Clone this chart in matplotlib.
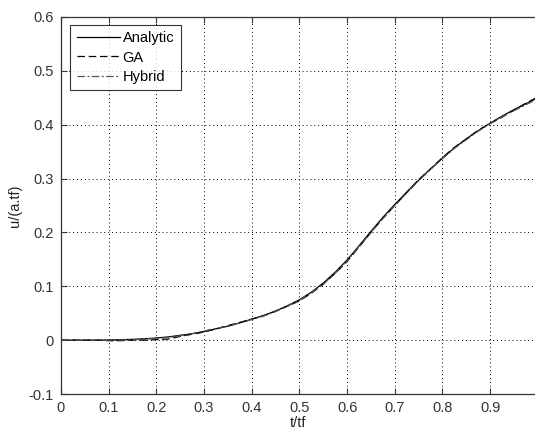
import matplotlib
matplotlib.use("Agg")
import matplotlib.pyplot as plt

t = [0, 0.025, 0.05, 0.075, 0.1, 0.125, 0.15, 0.175, 0.2, 0.225, 0.25, 0.275,
     0.3, 0.325, 0.35, 0.375, 0.4, 0.425, 0.45, 0.475, 0.5, 0.525, 0.55, 0.575,
     0.6, 0.625, 0.65, 0.675, 0.7, 0.725, 0.75, 0.775, 0.8, 0.825, 0.85, 0.875,
     0.9, 0.925, 0.95, 0.975, 0.995]
analytic = [0, 0, 0, 0, 0.0003, 0.0008, 0.0015, 0.0025, 0.004, 0.006, 0.009, 0.012,
            0.016, 0.021, 0.026, 0.032, 0.039, 0.046, 0.054, 0.064, 0.075, 0.089, 0.106, 0.126,
            0.149, 0.175, 0.202, 0.228, 0.252, 0.275, 0.297, 0.318, 0.338, 0.357, 0.374, 0.389,
            0.403, 0.416, 0.428, 0.439, 0.448]
ga = [0, 0, 0, 0, -0.001, -0.001, 0.0, 0.0, 0.001, 0.002, 0.007, 0.011,
      0.015, 0.021, 0.027, 0.033, 0.039, 0.045, 0.054, 0.063, 0.073, 0.087, 0.104, 0.124,
      0.146, 0.173, 0.200, 0.226, 0.250, 0.274, 0.298, 0.318, 0.339, 0.358, 0.373, 0.390,
      0.402, 0.414, 0.427, 0.440, 0.449]
hybrid = [0, 0, 0, 0, 0.0, 0.0, 0.0008, 0.002, 0.003, 0.005, 0.008, 0.012,
          0.017, 0.022, 0.026, 0.032, 0.038, 0.045, 0.053, 0.063, 0.074, 0.088, 0.104, 0.124,
          0.147, 0.173, 0.200, 0.226, 0.250, 0.273, 0.296, 0.317, 0.337, 0.356, 0.372, 0.388,
          0.402, 0.415, 0.426, 0.437, 0.446]

xticks = [0, 0.1, 0.2, 0.3, 0.4, 0.5, 0.6, 0.7, 0.8, 0.9]
xticklabels = ["0", "0.1", "0.2", "0.3", "0.4", "0.5", "0.6", "0.7", "0.8", "0.9"]
yticks = [-0.1, 0, 0.1, 0.2, 0.3, 0.4, 0.5, 0.6]
yticklabels = ["-0.1", "0", "0.1", "0.2", "0.3", "0.4", "0.5", "0.6"]

plt.rcParams['font.family'] = ['Liberation Sans', 'DejaVu Sans']

fig = plt.figure(figsize=(5.35, 4.3), dpi=100)
ax = fig.add_axes([0.114, 0.0837, 0.886, 0.8768])

ax.plot(t, analytic, color='black', linestyle='-', linewidth=0.9, label='Analytic')
ax.plot(t, ga, color='black', linestyle=(0, (6, 3)), linewidth=0.9, label='GA')
ax.plot(t, hybrid, color='#555555', linestyle=(0, (6, 2, 1.5, 2)), linewidth=0.9, label='Hybrid')

ax.set_xlim(0, 0.994)
ax.set_ylim(-0.1, 0.6)
ax.set_xticks(xticks)
ax.set_xticklabels(xticklabels)
ax.set_yticks(yticks)
ax.set_yticklabels(yticklabels)
ax.tick_params(direction='in', top=True, right=False, labelsize=10.5, length=4,
               width=0.8, colors='#333333', pad=5)
ax.grid(True, color='black', linestyle=(0, (1, 3)), linewidth=0.7)
ax.spines['right'].set_visible(False)
for s in ['left', 'bottom', 'top']:
    ax.spines[s].set_linewidth(0.9)
    ax.spines[s].set_color('#333333')

ax.set_xlabel('t/tf', fontsize=10.5, labelpad=1, color='#222222')
ax.set_ylabel('u/(a.tf)', fontsize=10.5, labelpad=5, color='#222222')

leg = ax.legend(loc='upper left', bbox_to_anchor=(0.019, 0.979), fontsize=10.5,
                frameon=True, fancybox=False, handlelength=3.0, handletextpad=0.15,
                borderpad=0.45, labelspacing=0.35, borderaxespad=0)
leg.get_frame().set_edgecolor('black')
leg.get_frame().set_linewidth(0.8)

fig.savefig('out.png', dpi=100)
